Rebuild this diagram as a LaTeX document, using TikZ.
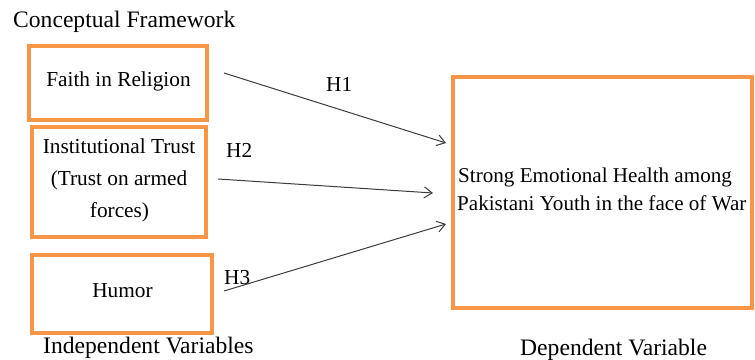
\documentclass[tikz,border=0pt]{standalone}
\usepackage{fontspec}
\setmainfont{Liberation Serif}
\usetikzlibrary{arrows.meta}
\definecolor{boxorange}{RGB}{247,150,70}
\definecolor{arrowgray}{RGB}{60,60,60}
\begin{document}
\begin{tikzpicture}[x=1pt,y=-1pt,
  vbox/.style={draw=boxorange,line width=3.3pt,inner sep=0pt,outer sep=0pt},
  txt/.style={anchor=base,inner sep=0pt,font=\fontsize{21.3}{25}\selectfont},
  ltxt/.style={anchor=base west,inner sep=0pt,font=\fontsize{21.1}{25}\selectfont},
  lbl/.style={anchor=base west,inner sep=0pt,font=\fontsize{23.6}{28}\selectfont},
  hyp/.style={anchor=base west,inner sep=0pt,font=\fontsize{21.3}{25}\selectfont},
  link/.style={draw=arrowgray,line width=1pt,-{Straight Barb[length=8pt,width=11pt]}}]
\useasboundingbox (0,0) rectangle (755,359);
% boxes
\node[vbox,minimum width=178pt,minimum height=74pt] (faith) at (118,83) {};
\node[vbox,minimum width=174pt,minimum height=110pt] (inst) at (119,182) {};
\node[vbox,minimum width=180pt,minimum height=78pt] (humor) at (122,294) {};
\node[vbox,minimum width=299pt,minimum height=231pt] (dep) at (602.5,192.5) {};
% box texts
\node[txt] (tfaith) at (118.5,86) {Faith in Religion};
\node[txt] (tinst1) at (119,153) {Institutional Trust};
\node[txt] (tinst2) at (119,185) {(Trust on armed};
\node[txt] (tinst3) at (119.5,217) {forces)};
\node[txt] (thumor) at (122.5,297) {Humor};
\node[ltxt] (tdep1) at (458,182) {Strong Emotional Health among};
\node[ltxt] (tdep2) at (457,210) {Pakistani Youth in the face of War};
% labels
\node[lbl] (title) at (13,27) {Conceptual Framework};
\node[lbl] (indep) at (43,353) {Independent Variables};
\node[lbl] (depl) at (520,355) {Dependent Variable};
\node[hyp] (h1) at (326,91) {H1};
\node[hyp] (h2) at (226,157) {H2};
\node[hyp] (h3) at (224,284) {H3};
% arrow endpoints
\coordinate (s1) at (224,73);
\coordinate (e1) at (446,143);
\coordinate (s2) at (218,179);
\coordinate (e2) at (433,193);
\coordinate (s3) at (224,291);
\coordinate (e3) at (446,224);
\draw[link] (s1) -- (e1);
\draw[link] (s2) -- (e2);
\draw[link] (s3) -- (e3);
\end{tikzpicture}
\end{document}
